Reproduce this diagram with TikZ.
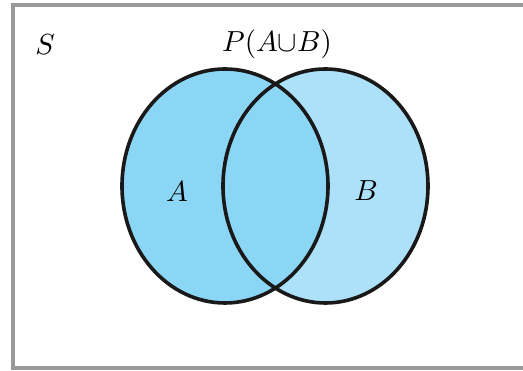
\documentclass[tikz,border=0pt]{standalone}
\usepackage{tikz}

\definecolor{setA}{RGB}{140,214,245}
\definecolor{setB}{RGB}{172,225,249}
\definecolor{frame}{RGB}{153,153,153}

\tikzset{
    outline/.style={line width=3.6pt, black!90},
    setlabel/.style={scale=2.9, inner sep=0pt}
}

\begin{document}
\begin{tikzpicture}[x=1pt, y=1pt]
    \useasboundingbox (0, 0) rectangle (523, 371);

    % draw frame of sample space
    \draw[frame, line width=4pt] (530, 366) -- (13, 366) -- (13, 2.5) -- (530, 2.5);

    % fill in sets
    \fill[setB] (325.5, 185) ellipse (102.5 and 117);
    \fill[setA] (225, 185) ellipse (103 and 117);

    % draw outlines
    \draw[outline] (225, 185) ellipse (103 and 117);
    \draw[outline] (325.5, 185) ellipse (102.5 and 117);

    % draw labels
    \node[setlabel, anchor=base] (S) at (45, 316) {$S$};
    \node[setlabel, anchor=base] (U) at (277, 319) {$P(A{\cup}B)$};
    \node[setlabel] (A) at (177, 179) {$A$};
    \node[setlabel] (B) at (366, 180) {$B$};
\end{tikzpicture}
\end{document}
